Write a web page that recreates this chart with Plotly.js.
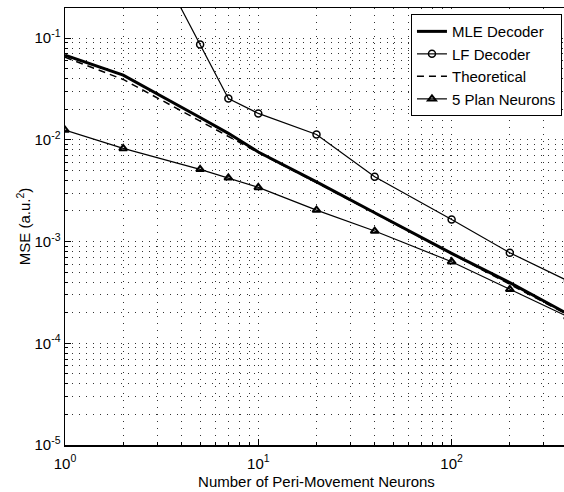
<!DOCTYPE html>
<html>
<head>
<meta charset="utf-8">
<script src="https://cdn.plot.ly/plotly-3.0.1.min.js"></script>
<style>
html, body { margin: 0; padding: 0; overflow: hidden; background: #fff; }
#chart { width: 572px; height: 492px; }
</style>
</head>
<body>
<div id="chart"></div>
<script>
// Data
const mleN   = [1, 2, 5, 7, 10, 20, 40, 100, 200, 400];
const mleMSE = [0.068, 0.0433, 0.0166, 0.0116, 0.0076, 0.00387, 0.00192, 0.000765, 0.000395, 0.000194];

const lfN   = [2, 5, 7, 10, 20, 40, 100, 200, 400];
const lfMSE = [2.4, 0.0867, 0.0255, 0.0182, 0.0113, 0.00434, 0.00165, 0.000776, 0.00041];

const theoN   = [1, 2, 5, 7, 10, 20, 40, 100, 200, 400];
const theoMSE = [0.065, 0.0393, 0.0153, 0.0108, 0.0075, 0.0038, 0.0019, 0.00076, 0.00038, 0.00019];

const planN   = [1, 2, 5, 7, 10, 20, 40, 100, 200, 400];
const planMSE = [0.0125, 0.00824, 0.00513, 0.00424, 0.00341, 0.00204, 0.00127, 0.000634, 0.000339, 0.000182];

const seriesNames = ['MLE Decoder', 'LF Decoder', 'Theoretical', '5 Plan Neurons'];
const xTickVals = [1, 10, 100];
const xTickText = ['10<sup>0</sup>', '10<sup>1</sup>', '10<sup>2</sup>'];
const yTickVals = [1e-5, 1e-4, 1e-3, 1e-2, 1e-1];
const yTickText = ['10<sup>-5</sup>', '10<sup>-4</sup>', '10<sup>-3</sup>', '10<sup>-2</sup>', '10<sup>-1</sup>'];
const xTitle = 'Number of Peri-Movement Neurons';
const yTitle = 'MSE (a.u.<sup>2</sup>)';

const FONT = 'Liberation Sans, Arial, Helvetica, sans-serif';

const traces = [
  { x: mleN, y: mleMSE, name: seriesNames[0], mode: 'lines',
    line: { color: '#000', width: 3 } },
  { x: lfN, y: lfMSE, name: seriesNames[1], mode: 'lines+markers',
    line: { color: '#000', width: 1.2 },
    marker: { symbol: 'circle-open', size: 7, color: '#000', line: { width: 1.5, color: '#000' } } },
  { x: theoN, y: theoMSE, name: seriesNames[2], mode: 'lines',
    line: { color: '#000', width: 1.5, dash: '7px,5px' } },
  { x: planN, y: planMSE, name: seriesNames[3], mode: 'lines+markers',
    line: { color: '#000', width: 1.2 },
    marker: { symbol: 'triangle-up-open', size: 7, color: '#000', line: { width: 2, color: '#000' } } }
];

const gridDash = '1px,6px';
const gridColor = '#333';

function axisBase(tv, tt) {
  return {
    type: 'log', tickmode: 'array', tickvals: tv, ticktext: tt,
    showline: true, linecolor: '#000', linewidth: 1.5, mirror: true,
    ticks: 'inside', ticklen: 6, tickcolor: '#000',
    showgrid: true, gridcolor: gridColor, gridwidth: 1, griddash: gridDash,
    zeroline: false,
    tickfont: { family: FONT, size: 15, color: '#000' },
    minor: { dtick: 'D1', showgrid: true, gridcolor: gridColor, gridwidth: 1, griddash: gridDash,
             ticks: 'inside', ticklen: 3, tickcolor: '#000' }
  };
}

const xaxis = axisBase(xTickVals, xTickText);
xaxis.range = [0, Math.log10(400)];
xaxis.ticklabelstandoff = 4;
xaxis.title = { text: xTitle, font: { family: FONT, size: 15, color: '#000' }, standoff: 6 };

const yaxis = axisBase(yTickVals, yTickText);
yaxis.range = [-5, Math.log10(0.198)];
yaxis.title = { text: yTitle, font: { family: FONT, size: 15, color: '#000' }, standoff: 0 };

const layout = {
  width: 572, height: 492,
  margin: { l: 65, r: 4, t: 8, b: 47 },
  paper_bgcolor: '#fff', plot_bgcolor: '#fff',
  font: { family: FONT, color: '#000', size: 14 },
  showlegend: true,
  legend: {
    x: 0.988, xanchor: 'right', y: 0.986, yanchor: 'top',
    bgcolor: '#fff', bordercolor: '#000', borderwidth: 1,
    font: { family: FONT, size: 15, color: '#000' },
    tracegroupgap: 0
  },
  xaxis: xaxis,
  yaxis: yaxis
};

Plotly.newPlot('chart', traces, layout, { displayModeBar: false, staticPlot: true });
</script>
</body>
</html>
